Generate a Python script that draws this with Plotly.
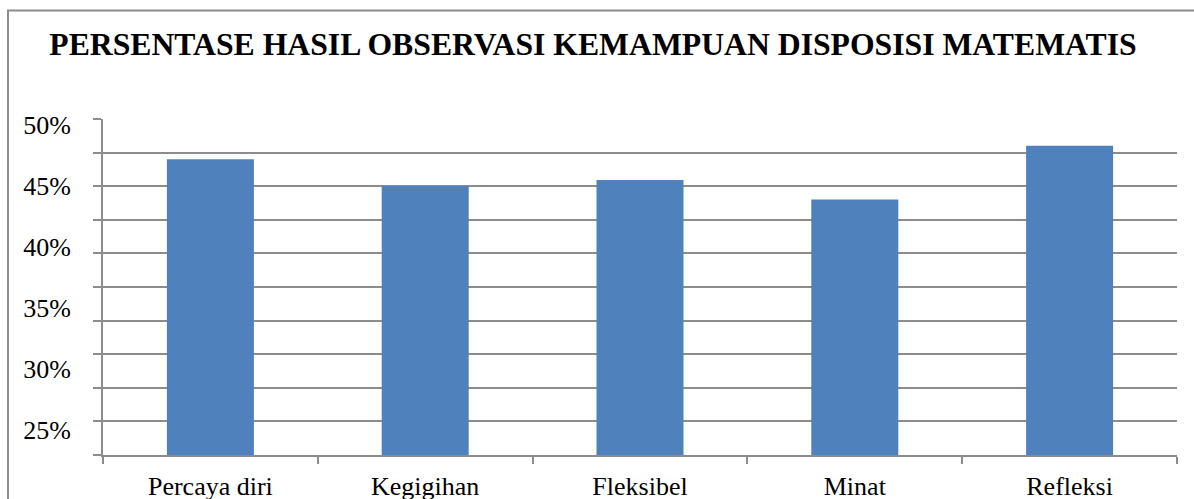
import plotly.graph_objects as go

categories = ["Percaya diri", "Kegigihan", "Fleksibel", "Minat", "Refleksi"]
values = [47.2, 45.0, 45.5, 43.9, 48.3]
tick_vals = [25, 30, 35, 40, 45, 50]
tick_text = ["25%", "30%", "35%", "40%", "45%", "50%"]
title_text = "PERSENTASE HASIL OBSERVASI KEMAMPUAN DISPOSISI MATEMATIS"

W, H = 1194, 499
ML, MR, MT, MB = 103, 17, 119, 44
PW, PH = W - ML - MR, H - MT - MB

GRID = "#8c8c8c"
FONT = "Liberation Serif"

fig = go.Figure()
# empty trace so the gridline axis (y) is drawn
fig.add_trace(go.Scatter(x=categories, y=[None] * len(categories), yaxis="y",
                         mode="markers", hoverinfo="skip", showlegend=False))
fig.add_trace(go.Bar(
    x=categories, y=values, yaxis="y2",
    marker=dict(color="#4F81BD", line=dict(width=0)),
    width=0.405, hoverinfo="x+y",
))

fig.update_layout(
    width=W, height=H,
    margin=dict(l=ML, r=MR, t=MT, b=MB, autoexpand=False),
    paper_bgcolor="white", plot_bgcolor="white",
    showlegend=False,
    title=dict(text="<b>" + title_text + "</b>", x=593 / W, xanchor="center",
               xref="container",
               y=1 - 44 / H, yanchor="middle", yref="container",
               font=dict(family=FONT, size=31.7, color="black")),
    xaxis=dict(
        type="category", showgrid=False, showline=True, linecolor=GRID, linewidth=2,
        ticks="outside", tickson="boundaries", ticklen=7, tickcolor=GRID, tickwidth=1.5,
        tickfont=dict(family=FONT, size=26, color="black"),
        ticklabelstandoff=7, automargin=False,
    ),
    yaxis=dict(
        range=[0, 10], dtick=1, showgrid=True, gridcolor=GRID, gridwidth=2,
        zeroline=False, showticklabels=False, ticks="outside", ticklen=8,
        tickcolor=GRID, tickwidth=2, showline=True, linecolor=GRID, linewidth=2,
        fixedrange=True, automargin=False,
    ),
    yaxis2=dict(
        overlaying="y", side="left", range=[22.95, 50.49],
        tickvals=tick_vals, ticktext=tick_text, showgrid=False, zeroline=False,
        ticks="outside", ticklen=26, tickcolor="rgba(0,0,0,0)",
        tickfont=dict(family=FONT, size=26, color="black"),
        showline=False, automargin=False,
    ),
    shapes=[dict(
        type="rect", xref="paper", yref="paper",
        x0=(8 - ML) / PW, x1=(W + 10 - ML) / PW,
        y0=-(MB + 20) / PH, y1=1 + (MT - 10.5) / PH,
        line=dict(color=GRID, width=2), fillcolor="rgba(0,0,0,0)", layer="below",
    )],
)

fig.write_html("out.html",
               config={"displayModeBar": False},
               post_script="document.body.style.margin='0';document.body.style.overflow='hidden';")
